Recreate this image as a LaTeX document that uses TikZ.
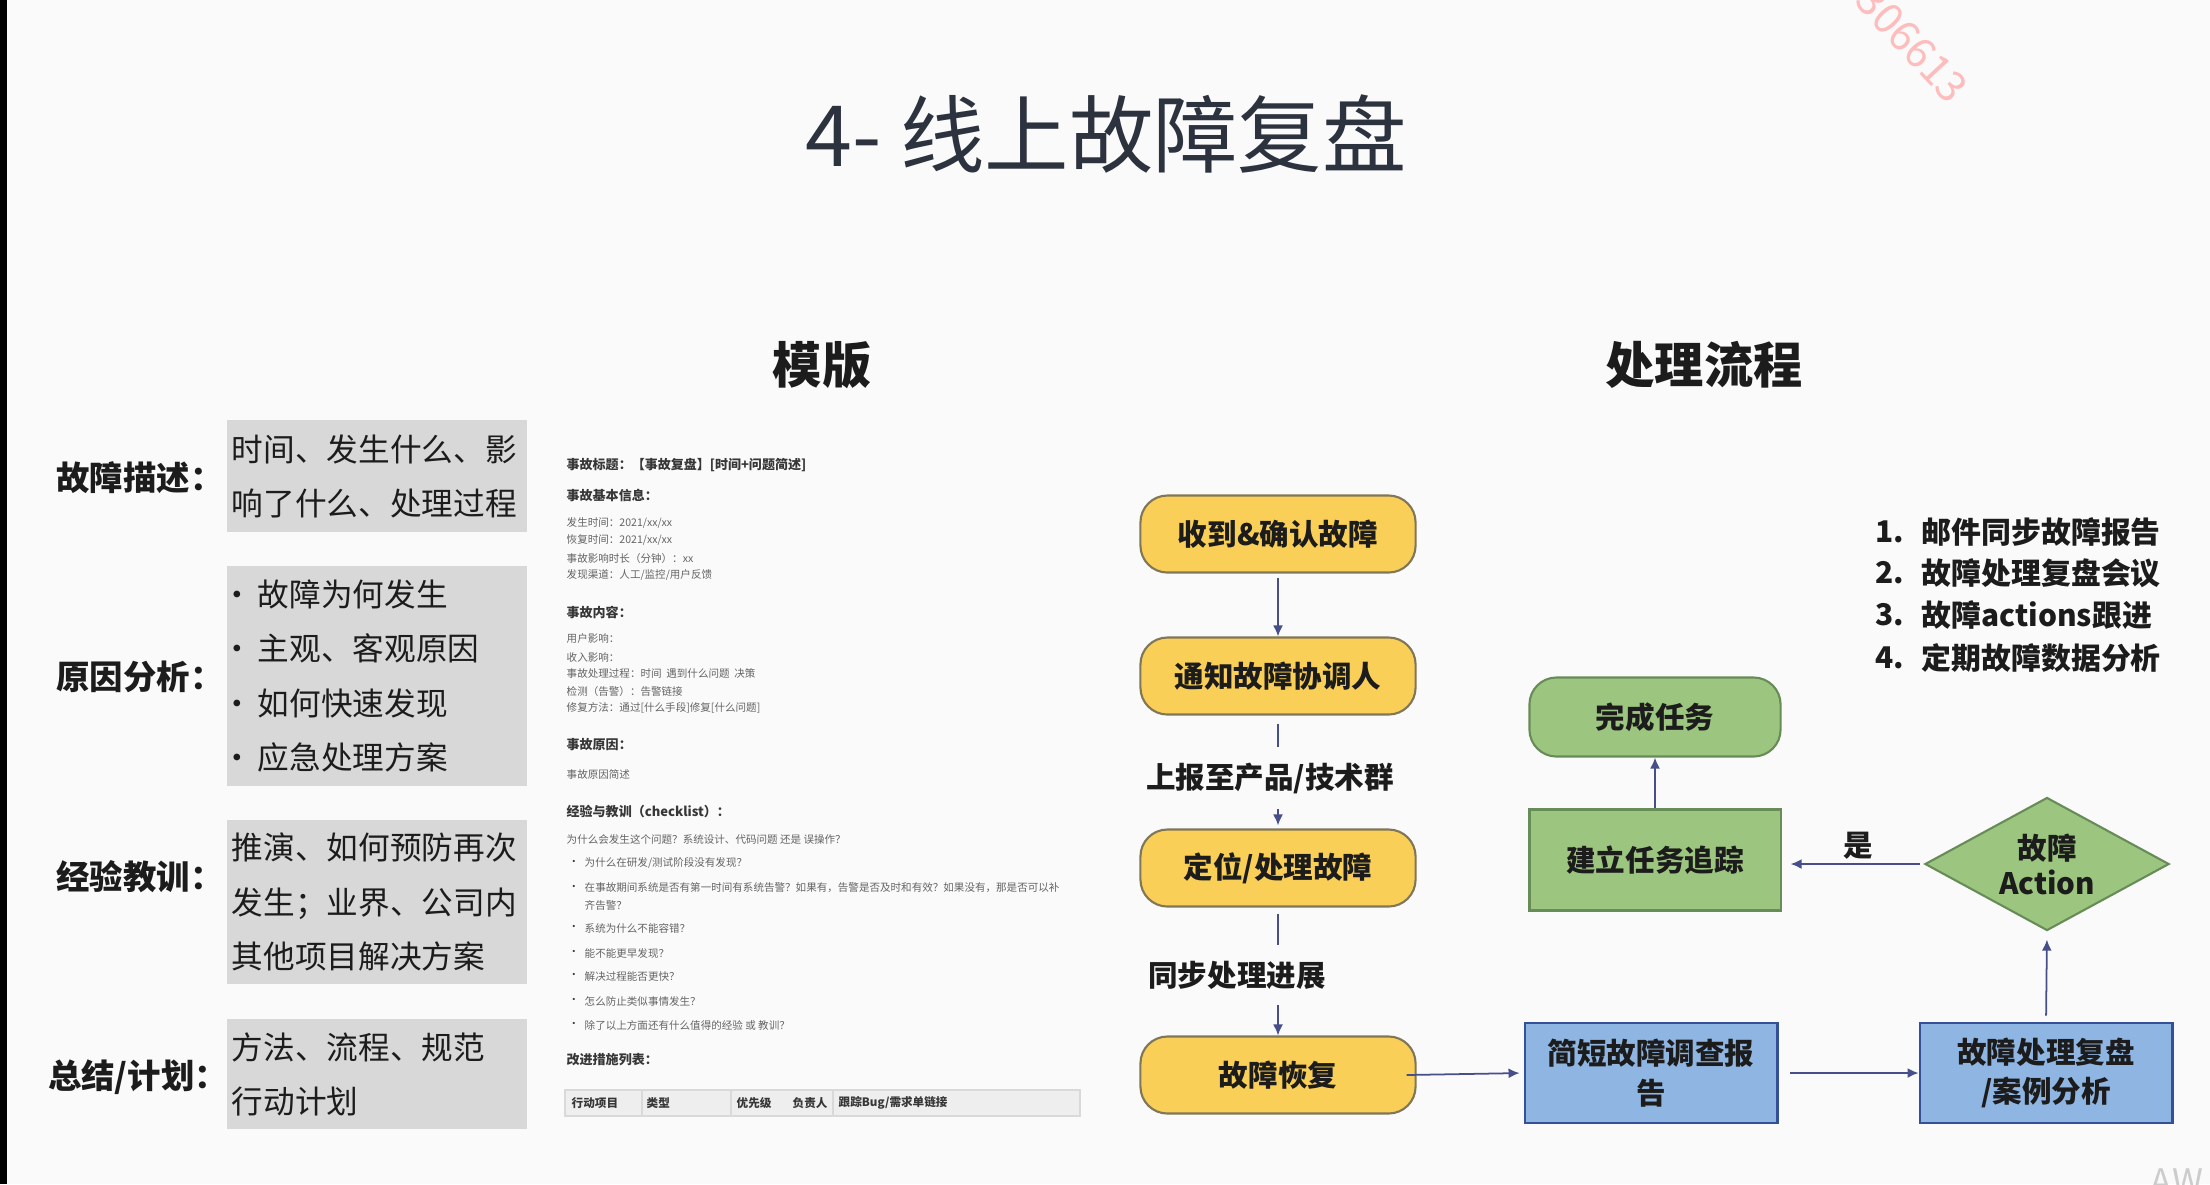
\documentclass[tikz,border=0pt]{standalone}
\usepackage{fontspec}
\setmainfont{Noto Sans CJK SC}
\usetikzlibrary{arrows.meta,positioning,shapes.geometric}
\definecolor{bgpaper}{RGB}{250,250,250}
\definecolor{titleink}{RGB}{44,50,62}
\definecolor{ink}{RGB}{28,28,28}
\definecolor{boxgray}{RGB}{216,216,216}
\definecolor{flowyellow}{RGB}{249,207,87}
\definecolor{yellowedge}{RGB}{128,118,88}
\definecolor{flowgreen}{RGB}{156,198,128}
\definecolor{greenedge}{RGB}{104,140,88}
\definecolor{flowblue}{RGB}{143,181,226}
\definecolor{blueedge}{RGB}{52,80,150}
\definecolor{arrowink}{RGB}{70,78,140}
\definecolor{docdark}{RGB}{55,55,55}
\definecolor{doclight}{RGB}{100,100,100}
\definecolor{stamp}{RGB}{255,188,188}
\newcommand{\gbul}{\makebox[0.26cm][l]{\hspace{-0.1cm}•}}
\tikzset{
  category/.style={font=\fontsize{9.5}{11}\selectfont\bfseries, text=ink, inner sep=0pt},
  graybox/.style={rectangle, fill=boxgray, inner xsep=0.05cm, inner ysep=0pt, text width=2.9cm, align=left, font=\fontsize{9}{15.4}\selectfont, text=ink},
  heading/.style={font=\fontsize{14}{16}\selectfont\bfseries, text=ink, inner sep=0pt},
  dochead/.style={anchor=west, inner sep=0pt, font=\fontsize{3.7}{4.4}\selectfont\bfseries, text=docdark},
  doctext/.style={anchor=west, inner sep=0pt, font=\fontsize{3}{3.6}\selectfont, text=doclight},
  yellowbox/.style={rectangle, rounded corners=0.27cm, draw=yellowedge, fill=flowyellow, line width=0.6pt, minimum width=2.75cm, minimum height=0.77cm, font=\fontsize{8.4}{10}\selectfont\bfseries, text=ink},
  greenbox/.style={rectangle, rounded corners=0.27cm, draw=greenedge, fill=flowgreen, line width=0.6pt, minimum width=2.51cm, minimum height=0.79cm, font=\fontsize{8.4}{10}\selectfont\bfseries, text=ink},
  greenrect/.style={rectangle, draw=greenedge, fill=flowgreen, line width=0.6pt, minimum width=2.51cm, minimum height=1.01cm, font=\fontsize{8.4}{10}\selectfont\bfseries, text=ink},
  bluebox/.style={rectangle, draw=blueedge, fill=flowblue, line width=0.8pt, minimum width=2.52cm, minimum height=1.0cm, align=center, font=\fontsize{8.4}{11.3}\selectfont\bfseries, text=ink},
  decision/.style={diamond, aspect=1.83, draw=greenedge, fill=flowgreen, line width=0.6pt, minimum width=2.44cm, minimum height=1.33cm, inner sep=0pt, align=center, font=\fontsize{8.4}{10}\selectfont\bfseries, text=ink},
  flowlabel/.style={font=\fontsize{8.4}{10}\selectfont\bfseries, text=ink, inner xsep=0pt, inner ysep=0.15cm},
  listitem/.style={anchor=west, inner sep=0pt, font=\fontsize{8.5}{10}\selectfont\bfseries, text=ink},
  flow/.style={-{Latex[length=1.1mm,width=1mm]}, line width=0.5pt, draw=arrowink},
  link/.style={line width=0.5pt, draw=arrowink}
}

\begin{document}
\begin{tikzpicture}[x=0.01cm, y=-0.01cm]
  \useasboundingbox (0,0) rectangle (2210,1184);
  \fill[bgpaper] (0,0) rectangle (2210,1184);
  \fill[black] (0,0) rectangle (7,1184);

  % title and headings
  \node[font=\fontsize{24}{28}\selectfont, text=titleink] (title) at (1106,134) {4- 线上故障复盘};
  \node[heading] (tpl) at (822,365) {模版};
  \node[heading] (proc) at (1704,365) {处理流程};
  \node[stamp, font=\fontsize{12}{14}\selectfont, rotate=-47] (wm) at (1912,44) {306613};
  \node[gray!40, font=\fontsize{10}{12}\selectfont] (aw) at (2177,1182) {AW};

  % left column
  \node[category] (c1) at (140,478) {故障描述：};
  \node[category] (c2) at (140,677) {原因分析：};
  \node[category] (c3) at (140,877) {经验教训：};
  \node[category] (c4) at (138,1077) {总结/计划：};
  \node[graybox, minimum height=1.11cm] (g1) at (377,476) {时间、发生什么、影\\响了什么、处理过程};
  \node[graybox, minimum height=2.19cm] (g2) at (377,676) {\gbul 故障为何发生\\\gbul 主观、客观原因\\\gbul 如何快速发现\\\gbul 应急处理方案};
  \node[graybox, minimum height=1.63cm] (g3) at (377,902) {推演、如何预防再次\\发生；业界、公司内\\其他项目解决方案};
  \node[graybox, minimum height=1.09cm] (g4) at (377,1074) {方法、流程、规范\\行动计划};

  % template document
  \node[dochead] (dh1) at (566,465) {事故标题：【事故复盘】[时间+问题简述]};
  \node[dochead] (dh2) at (566,495) {事故基本信息：};
  \foreach \y/\t [count=\k] in {523/{发生时间：2021/xx/xx}, 540/{恢复时间：2021/xx/xx}, 558/{事故影响时长（分钟）：xx}, 575/{发现渠道：人工/监控/用户反馈}, 638/{用户影响：}, 657/{收入影响：}, 673/{事故处理过程：时间\ \ 遇到什么问题\ \ 决策}, 691/{检测（告警）：告警链接}, 708/{修复方法：通过[什么手段]修复[什么问题]}, 774/{事故原因简述}, 839/{为什么会发生这个问题？系统设计、代码问题 还是 误操作？}}
    \node[doctext] (dl\k) at (566,\y) {\t};
  \node[dochead] (dh3) at (566,612) {事故内容：};
  \node[dochead] (dh4) at (566,745) {事故原因：};
  \node[dochead] (dh5) at (566,811) {经验与教训（checklist）：};
  \foreach \y/\t [count=\k] in {863/{为什么在研发/测试阶段没有发现？}, 888/{在事故期间系统是否有第一时间有系统告警？如果有，告警是否及时和有效？如果没有，那是否可以补}, 928/{系统为什么不能容错？}, 953/{能不能更早发现？}, 976/{解决过程能否更快？}, 1001/{怎么防止类似事情发生？}, 1025/{除了以上方面还有什么值得的经验 或 教训？}} {
    \node[doctext, text=docdark] (bd\k) at (568,\y) {•};
    \node[doctext] (bt\k) at (584,\y) {\t};
  }
  \node[doctext] (bt2b) at (584,905) {齐告警？};
  \node[dochead] (dh6) at (566,1060) {改进措施列表：};
  \draw[fill=gray!13, draw=gray!30, line width=0.4pt] (565,1090) rectangle (1080,1116);
  \foreach \x in {642,731,833}
    \draw[gray!30, line width=0.4pt] (\x,1090) -- (\x,1116);
  \foreach \x/\t [count=\k] in {571/行动项目, 646/类型, 736/优先级, 792/负责人, 838/{跟踪Bug/需求单链接}}
    \node[dochead, font=\fontsize{3.3}{4}\selectfont\bfseries] (th\k) at (\x,1103) {\t};

  % flow chart
  \node[yellowbox] (recv) at (1278,534) {收到\&确认故障};
  \node[yellowbox] (notify) at (1278,676) {通知故障协调人};
  \node[yellowbox] (locate) at (1278,868) {定位/处理故障};
  \node[yellowbox] (recover) at (1278,1075) {故障恢复};
  \node[flowlabel] (report) at (1270,778) {上报至产品/技术群};
  \node[flowlabel] (sync) at (1237,975) {同步处理进展};
  \node[bluebox] (brief) at (1651,1073) {简短故障调查报\\告};
  \node[bluebox] (review) at (2046,1073) {故障处理复盘\\/案例分析};
  \node[decision] (act) at (2047,864) {故障\\Action};
  \node[greenrect] (track) at (1655,860) {建立任务追踪};
  \node[greenbox] (done) at (1655,717) {完成任务};
  \node[flowlabel, inner sep=0pt] (yes) at (1858,846) {是};

  \draw[flow, shorten <=0.04cm] (recv) -- (notify);
  \draw[link, shorten <=0.08cm] (notify.south) -- (notify.south |- report.north);
  \draw[flow, shorten >=0.03cm] (locate.north |- report.south) -- (locate.north);
  \draw[link, shorten <=0.06cm] (locate.south) -- (locate.south |- sync.north);
  \draw[flow] (recover.north |- sync.south) -- (recover.north);
  \draw[flow, shorten >=0.04cm] ([xshift=-0.1cm]recover.east) -- (brief.west);
  \draw[flow, shorten <=0.11cm] (brief.east) -- (review.west);
  \draw[flow, shorten <=0.06cm, shorten >=0.08cm] (review.north) -- (act.south);
  \draw[flow, shorten <=0.04cm, shorten >=0.09cm] (act.west) -- (act.west -| track.east);
  \draw[flow] (track.north) -- (done.south);

  % steps after recovery
  \foreach \n/\t/\y in {1/邮件同步故障报告/532, 2/故障处理复盘会议/573, 3/故障actions跟进/615, 4/定期故障数据分析/658} {
    \node[listitem] (num\n) at (1875,\y) {\n.};
    \node[listitem] (item\n) at (1921,\y) {\t};
  }
\end{tikzpicture}
\end{document}
